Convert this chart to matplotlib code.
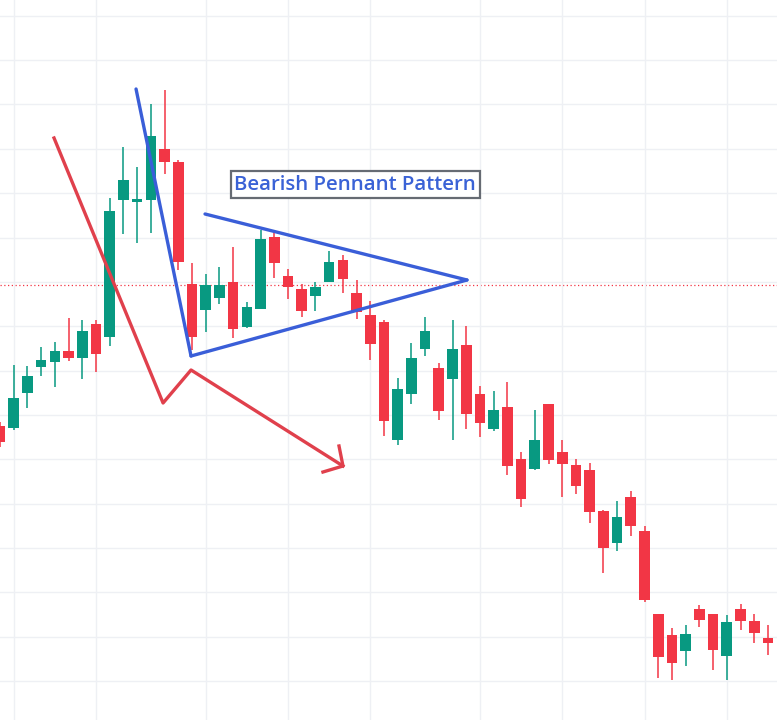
import numpy as np
import matplotlib.pyplot as plt

# candle values (arbitrary price units)
opens = [294, 292, 327, 353, 358, 369, 362, 396, 383, 520, 518, 520, 571, 558, 436,
         410, 422, 438, 393, 411, 483, 444, 431, 424, 438, 460, 427, 405, 398, 280,
         326, 371, 352, 341, 375, 326, 291, 313, 261, 251, 316, 268, 255, 250, 209,
         177, 223, 189, 106, 85, 69, 111, 106, 64, 111, 99, 82]
highs = [298, 355, 354, 373, 378, 402, 400, 400, 522, 573, 553, 616, 630, 560, 457,
         446, 453, 473, 418, 490, 489, 451, 436, 438, 469, 465, 440, 419, 400, 342,
         377, 403, 357, 400, 394, 334, 329, 338, 268, 310, 316, 280, 261, 257, 210,
         219, 229, 194, 106, 92, 95, 115, 106, 105, 116, 106, 95]
lows = [273, 290, 312, 344, 333, 359, 341, 348, 374, 486, 477, 487, 546, 450, 370,
        388, 416, 382, 392, 411, 442, 421, 403, 409, 438, 427, 401, 360, 284, 275,
        316, 364, 300, 280, 291, 283, 289, 245, 213, 250, 256, 223, 226, 197, 147,
        169, 184, 118, 42, 40, 54, 93, 50, 40, 90, 77, 65]
closes = [278, 322, 344, 360, 369, 362, 389, 366, 509, 540, 521, 584, 558, 458, 383,
          435, 435, 391, 413, 481, 457, 433, 409, 433, 458, 441, 408, 376, 299, 331,
          362, 389, 309, 371, 306, 297, 310, 254, 221, 280, 260, 256, 234, 208, 172,
          203, 194, 120, 63, 57, 86, 100, 70, 98, 99, 87, 77]

# drawings on the chart: (candle index, price)
steep_x = [9.92, 13.93]
steep_y = [631, 364]
lower_x = [13.93, 34.05]
lower_y = [364, 440]
upper_x = [14.95, 34.05]
upper_y = [506, 440]
red_path_x = [3.94, 11.89, 13.93, 25.01]
red_path_y = [582, 317, 350, 254]
head_x = [24.72, 25.01, 23.55]
head_y = [274, 254, 248]
level_price = 435
label_text = "Bearish Pennant Pattern"
label_pos = (25.9, 535.5)

green = "#089981"
red = "#f23645"
blue = "#3a5ed8"
line_red = "#e0404c"

fig = plt.figure(figsize=(7.77, 7.2), dpi=100)
ax = fig.add_axes([0, 0, 1, 1])

x = np.arange(len(opens))
o = np.array(opens)
c = np.array(closes)
cols = [green if cc > oo else red for oo, cc in zip(o, c)]

ax.vlines(x, lows, highs, colors=cols, linewidth=1.1, zorder=2)
ax.bar(x, np.maximum(np.abs(c - o), 1.5), bottom=np.minimum(o, c), width=0.78,
       color=cols, zorder=3)

ax.axhline(level_price, color=red, linestyle=(0, (1, 2)), linewidth=0.9, zorder=1)

ax.plot(steep_x, steep_y, color=blue, linewidth=2.4, solid_capstyle="round", zorder=4)
ax.plot(lower_x, lower_y, color=blue, linewidth=2.4, solid_capstyle="round", zorder=4)
ax.plot(upper_x, upper_y, color=blue, linewidth=2.4, solid_capstyle="round", zorder=4)
ax.plot(red_path_x, red_path_y, color=line_red, linewidth=2.4, zorder=4)
ax.plot(head_x, head_y, color=line_red, linewidth=2.4, zorder=4)

ax.text(label_pos[0], label_pos[1], label_text, fontsize=14.7, family="Open Sans",
        weight="semibold", color="#3a62d6", ha="center", va="center", zorder=5,
        bbox=dict(boxstyle="square,pad=0.18", facecolor="white", edgecolor="#666b73",
                  linewidth=1.6))

# faint grid like the trading platform
ax.set_xticks([1, 7, 15, 21, 27, 35, 41, 47, 53])
ax.set_yticks(np.arange(39, 720, 44.35))
ax.grid(True, color="#eef0f4", linewidth=1.0, zorder=0)
ax.tick_params(length=0, labelbottom=False, labelleft=False)
for s in ax.spines.values():
    s.set_visible(False)

ax.set_xlim(0, 777 / 13.714)
ax.set_ylim(0, 720)

fig.savefig("out.png", dpi=100)
